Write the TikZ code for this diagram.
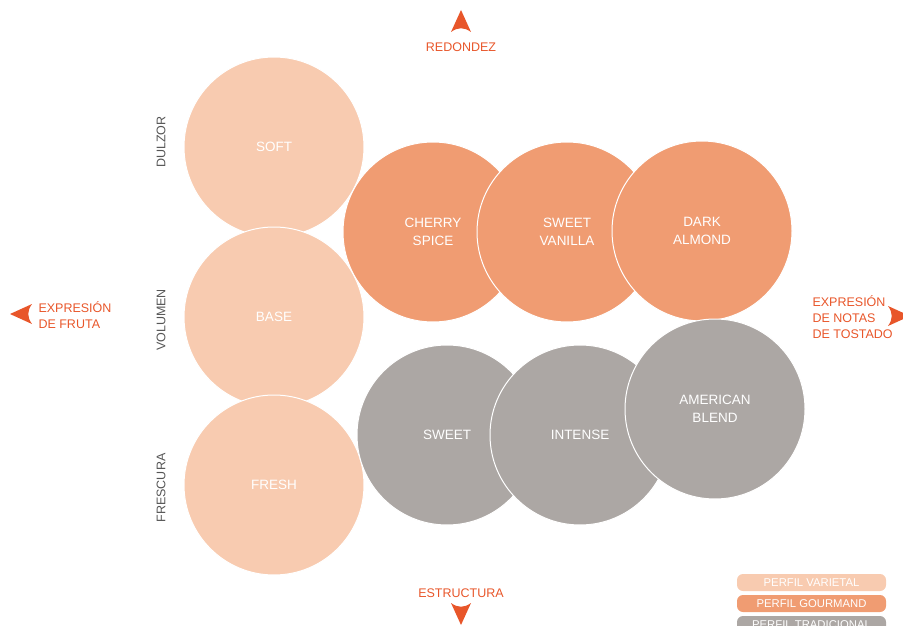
\documentclass[tikz,border=0pt]{standalone}
\usepackage{fontspec}
\setmainfont{Liberation Sans}

% colours of the three profiles and of the axes
\definecolor{varietal}{HTML}{F8CBB0}
\definecolor{gourmand}{HTML}{F09C72}
\definecolor{tradicional}{HTML}{ACA7A4}
\definecolor{axisred}{HTML}{E8562A}
\definecolor{labelgray}{HTML}{555555}

\tikzset{
  blend/.style={circle, draw=white, line width=1pt, minimum size=180pt, inner sep=0pt,
    text=white, align=center, font=\fontsize{13.5}{17.5}\selectfont},
  axislabel/.style={text=axisred, align=left, font=\fontsize{12.5}{16}\selectfont},
  sidelabel/.style={text=labelgray, rotate=90, font=\fontsize{12.5}{15}\selectfont},
  legendbox/.style={rounded corners=6pt, minimum width=149pt, minimum height=17pt,
    inner sep=0pt, text=white, font=\fontsize{11.3}{13}\selectfont},
  axis tip/.pic={\fill[axisred] (0,0) -- (-22,-10) .. controls (-17,-3) and (-17,3) .. (-22,10) -- cycle;}
}

\begin{document}
\begin{tikzpicture}[x=1pt,y=-1pt]
\useasboundingbox (0,0) rectangle (903,626);
\clip (0,0) rectangle (903,626);

% Varietal column
\node[blend, fill=varietal] (soft) at (274,147) {SOFT};
\node[blend, fill=varietal] (base) at (274,317) {BASE};
\node[blend, fill=varietal] (fresh) at (274,485) {FRESH};

% Gourmand row
\node[blend, fill=gourmand] (cherry) at (433,232) {CHERRY\\SPICE};
\node[blend, fill=gourmand] (vanilla) at (567,232) {SWEET\\VANILLA};
\node[blend, fill=gourmand] (almond) at (702,231) {DARK\\ALMOND};

% Traditional row
\node[blend, fill=tradicional] (sweet) at (447,435) {SWEET};
\node[blend, fill=tradicional] (intense) at (580,435) {INTENSE};
\node[blend, fill=tradicional] (american) at (715,409) {AMERICAN\\BLEND};

% Side labels
\node[sidelabel] (dulzor) at (161,142) {DULZOR};
\node[sidelabel] (volumen) at (161,320) {VOLUMEN};
\node[sidelabel] (frescura) at (161,488) {FRESCURA};

% Axes
\node[axislabel] (redondez) at (461,47) {REDONDEZ};
\node[axislabel] (estructura) at (461,593) {ESTRUCTURA};
\node[axislabel, anchor=west] (fruta) at (35,315) {EXPRESIÓN\\DE FRUTA};
\node[axislabel, anchor=west] (tostado) at (809,317) {EXPRESIÓN\\DE NOTAS\\DE TOSTADO};

\pic[rotate=90] at (461,10) {axis tip};
\pic[rotate=-90] at (461,625) {axis tip};
\pic[rotate=180] at (10,314) {axis tip};
\pic at (910,316) {axis tip};

% Legend
\node[legendbox, fill=varietal] (lvarietal) at (811.5,582.5) {PERFIL VARIETAL};
\node[legendbox, fill=gourmand] (lgourmand) at (811.5,603.5) {PERFIL GOURMAND};
\node[legendbox, fill=tradicional] (ltradicional) at (811.5,624.5) {PERFIL TRADICIONAL};
\end{tikzpicture}
\end{document}
